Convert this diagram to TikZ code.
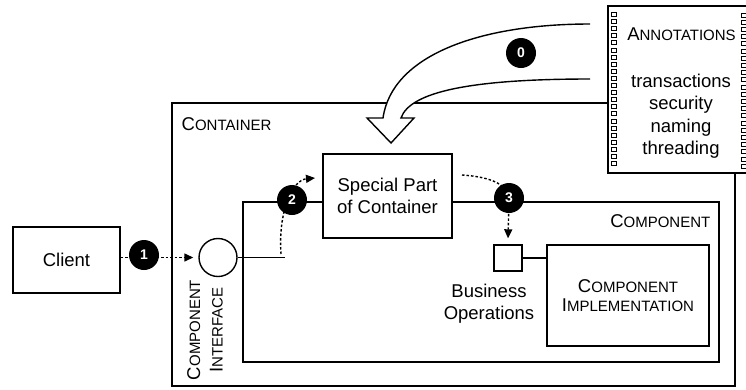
\documentclass[tikz,border=0pt]{standalone}
\usepackage{fontspec}
\setmainfont{Liberation Sans}
\usetikzlibrary{arrows.meta,calc}
% small caps faked with a smaller capital run after the first letter
\newcommand\smc[2]{#1{\fontsize{15}{15}\selectfont #2}}
\tikzset{
  box/.style={draw, line width=1.4pt, fill=white, inner sep=0pt},
  badge/.style={circle, fill=black, text=white, inner sep=0pt, minimum size=30pt,
    font=\fontsize{14}{14}\selectfont\bfseries},
  flow/.style={line width=1.4pt, dash pattern=on 2.5pt off 2pt,
    -{Triangle[length=9pt,width=8pt]}},
  lbl/.style={font=\fontsize{18.5}{22.5}\selectfont, align=center, inner sep=0pt},
  hole/.style={draw, line width=0.9pt, fill=white},
}
\begin{document}
\begin{tikzpicture}[x=1pt, y=-1pt, line width=1.4pt]
\clip (0,0) rectangle (746,389);
\fill[white] (0,0) rectangle (746,389);

% outer container
\node[draw, minimum width=563pt, minimum height=283pt, inner sep=0pt] (container) at (453.5,244.5) {};
\node[lbl, anchor=base west] (containerlbl) at (181,130) {\smc{C}{ONTAINER}};

% annotation sheet with punched edges
\node[box, minimum width=140pt, minimum height=167pt] (annot) at (678,89.5) {};
\foreach \i in {0,...,21} {
  \draw[hole] (611,{12.5+\i*7.1}) rectangle (616,{16.5+\i*7.1});
  \draw[hole] (741,{13+\i*7.2}) rectangle (746,{17+\i*7.2});
}
\node[lbl, anchor=base] (annottitle) at (681.5,40) {\smc{A}{NNOTATIONS}};
\node[lbl, anchor=north] (annotlist) at (681,73) {transactions\\security\\naming\\threading};

% injection arrow from the annotations into the container
\fill[white] (590,24) .. controls (480,24) and (392,55) .. (383,118) -- (367,118)
  -- (391,143) -- (414,118) -- (401,118) .. controls (410,92) and (470,79) .. (590,79) -- cycle;
\draw[line join=miter] (590,24) .. controls (480,24) and (392,55) .. (383,118) -- (367,118)
  -- (391,143) -- (414,118) -- (401,118) .. controls (410,92) and (470,79) .. (590,79);

% component
\node[draw, minimum width=476pt, minimum height=160pt, inner sep=0pt] (component) at (481,282) {};
\node[lbl, anchor=base east] (componentlbl) at (711,227) {\smc{C}{OMPONENT}};

\node[box, lbl, draw, minimum width=129pt, minimum height=84pt] (special) at (387.5,196) {Special Part\\of Container};

\node[box, circle, minimum size=38pt] (iface) at (218,257.5) {};
\coordinate (ifaceend) at (285,257.5);
\draw (iface.east) -- (ifaceend);
\node[lbl, rotate=90] (ifacelbl) at (205,330) {\smc{C}{OMPONENT}\\\smc{I}{NTERFACE}};

\node[box, lbl, draw, minimum width=107pt, minimum height=66pt] (client) at (66.5,260) {Client};

\node[box, minimum width=28pt, minimum height=26pt] (bizop) at (508,258) {};
\node[lbl, anchor=north] (bizoplbl) at (489,283) {Business\\Operations};
\node[box, lbl, draw, minimum width=162pt, minimum height=101pt] (impl) at (628,295.5)
  {\smc{C}{OMPONENT}\\[-3pt]\smc{I}{MPLEMENTATION}};
\draw (bizop.east) -- (bizop.east -| impl.west);

% call flow
\coordinate (a2s) at (281,254);
\coordinate (a2e) at (315,178);
\coordinate (a3s) at (462,175);
\draw[flow, shorten >=5pt] (client.east |- iface) -- (iface.west);
\draw[flow] (a2s) .. controls (278,210) and (293,180) .. (a2e);
\draw[flow] (a3s) .. controls (492,177) and (509,185) .. (509,200) -- ([yshift=6pt]bizop.north);

% step markers
\node[badge] (b0) at (521,53) {0};
\node[badge] (b1) at (144,255) {1};
\node[badge] (b2) at (292,200) {2};
\node[badge] (b3) at (509,198) {3};
\end{tikzpicture}
\end{document}
